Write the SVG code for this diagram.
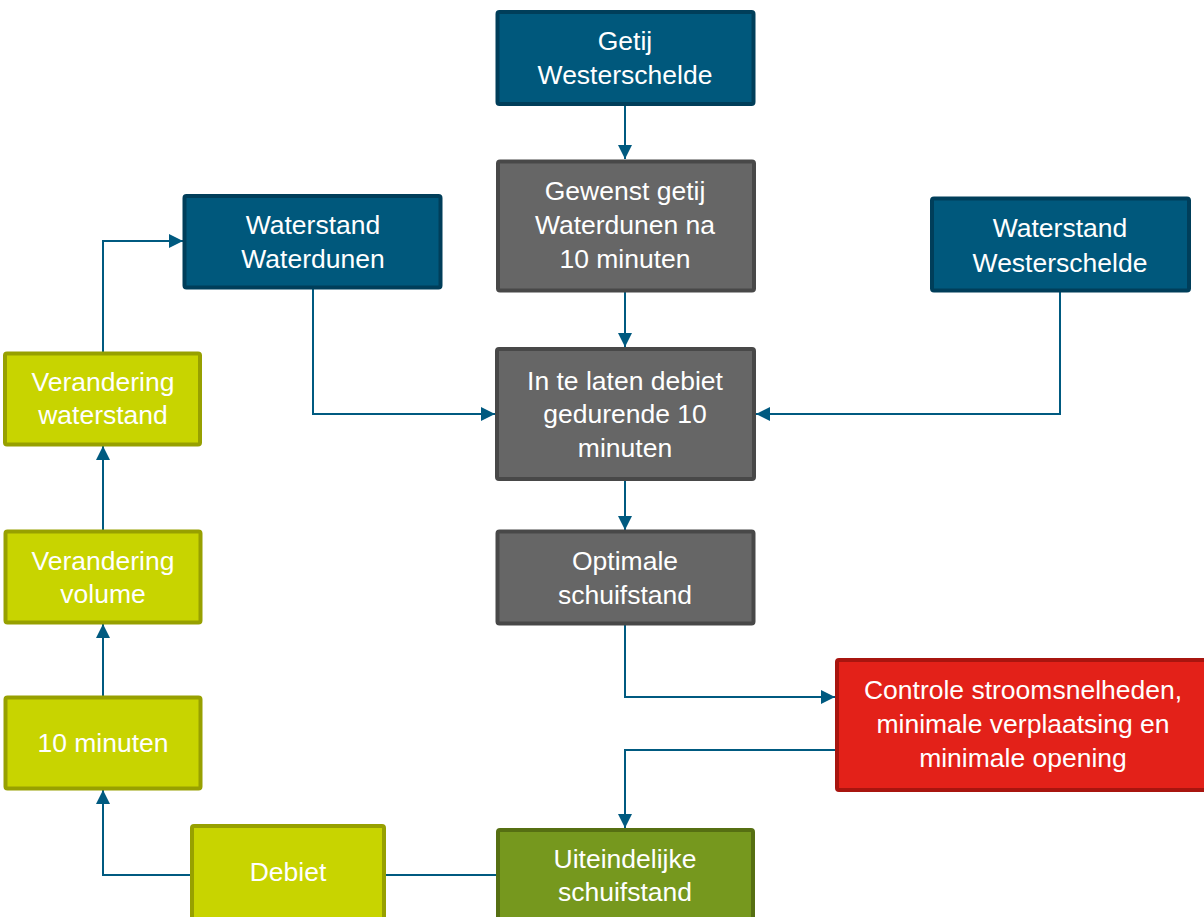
<svg xmlns="http://www.w3.org/2000/svg" width="1204" height="917" viewBox="0 0 1204 917">
<style>
rect{stroke-width:4}
.b{fill:#00587c;stroke:#003e5a}
.g{fill:#666666;stroke:#484848}
.y{fill:#c8d400;stroke:#97a000}
.r{fill:#e32119;stroke:#a8150f}
.d{fill:#76981e;stroke:#566f12}
text{font-family:"Liberation Sans",Arial,sans-serif;font-size:26.5px;fill:#ffffff;text-anchor:middle}
.c path{fill:none;stroke:#005a80;stroke-width:2}
</style>
<defs>
<marker id="a" viewBox="0 0 14 14" refX="14" refY="7" markerWidth="14" markerHeight="14" markerUnits="userSpaceOnUse" orient="auto">
<path d="M0,0 L14,7 L0,14 Z" fill="#005a80"/>
</marker>
</defs>
<g class="c">
<path d="M625,105 V159" marker-end="url(#a)"/>
<path d="M625,292 V347" marker-end="url(#a)"/>
<path d="M313,289 V414 H495" marker-end="url(#a)"/>
<path d="M1060,292 V414 H756" marker-end="url(#a)"/>
<path d="M625,481 V530" marker-end="url(#a)"/>
<path d="M625,625 V697 H835" marker-end="url(#a)"/>
<path d="M835,750 H625 V828" marker-end="url(#a)"/>
<path d="M496,875 H386"/>
<path d="M190,875 H103 V790" marker-end="url(#a)"/>
<path d="M103,696 V624" marker-end="url(#a)"/>
<path d="M103,530 V446" marker-end="url(#a)"/>
<path d="M103,352 V241 H183" marker-end="url(#a)"/>
</g>
<g id="getij"><rect class="b" x="497.5" y="12" width="256" height="92" rx="2"/><text x="625" y="50">Getij</text><text x="625" y="84">Westerschelde</text></g>
<g id="gewenst"><rect class="g" x="498" y="161.5" width="256" height="129" rx="2"/><text x="625" y="200">Gewenst getij</text><text x="625" y="234">Waterdunen na</text><text x="625" y="268">10 minuten</text></g>
<g id="wwd"><rect class="b" x="184.5" y="196" width="256" height="91.5" rx="2"/><text x="313" y="234">Waterstand</text><text x="313" y="268">Waterdunen</text></g>
<g id="wws"><rect class="b" x="932" y="198.5" width="257" height="92" rx="2"/><text x="1060" y="237">Waterstand</text><text x="1060" y="272">Westerschelde</text></g>
<g id="vws"><rect class="y" x="5" y="353.5" width="195" height="91" rx="2"/><text x="103" y="391">Verandering</text><text x="103" y="424">waterstand</text></g>
<g id="inte"><rect class="g" x="497" y="349" width="257" height="130" rx="2"/><text x="625" y="390">In te laten debiet</text><text x="625" y="423">gedurende 10</text><text x="625" y="457">minuten</text></g>
<g id="vvol"><rect class="y" x="5.5" y="531.5" width="195" height="91" rx="2"/><text x="103" y="570">Verandering</text><text x="103" y="603">volume</text></g>
<g id="opt"><rect class="g" x="497.5" y="531.5" width="256" height="92" rx="2"/><text x="625" y="570">Optimale</text><text x="625" y="604">schuifstand</text></g>
<g id="tien"><rect class="y" x="5.5" y="697.5" width="195" height="91" rx="2"/><text x="103" y="752">10 minuten</text></g>
<g id="controle"><rect class="r" x="837" y="660" width="369" height="130" rx="2"/><text x="1023" y="699">Controle stroomsnelheden,</text><text x="1023" y="733">minimale verplaatsing en</text><text x="1023" y="767">minimale opening</text></g>
<g id="debiet"><rect class="y" x="192" y="826" width="192" height="93" rx="2"/><text x="288" y="881">Debiet</text></g>
<g id="uit"><rect class="d" x="498" y="830" width="255" height="93" rx="2"/><text x="625" y="868">Uiteindelijke</text><text x="625" y="901">schuifstand</text></g>
</svg>
